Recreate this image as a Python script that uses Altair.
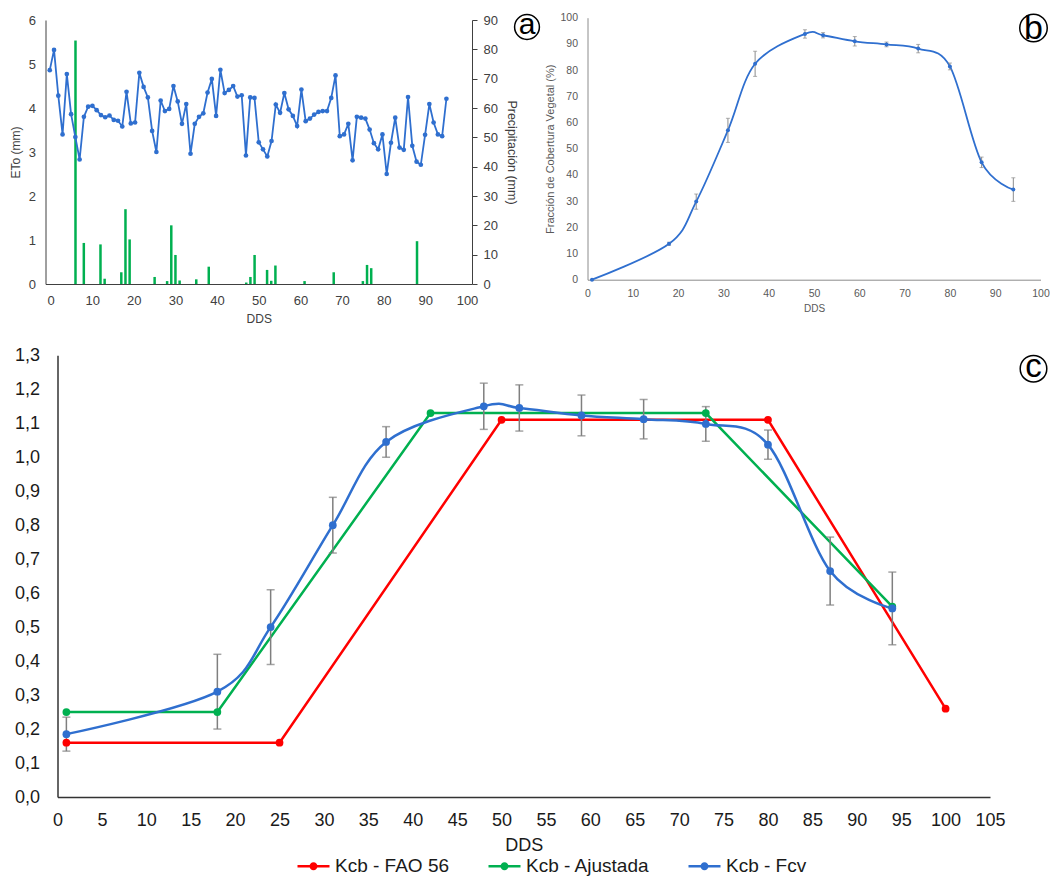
import altair as alt
import pandas as pd

FONT = "Liberation Sans"
W, H = 1042, 870

# ---------------- Panel a : ETo and precipitation ----------------
eto_dds = list(range(1, 95))
eto_mm = [4.86, 5.32, 4.28, 3.40, 4.77, 3.86, 3.34, 2.83, 3.80, 4.03,
          4.05, 3.95, 3.84, 3.79, 3.83, 3.73, 3.71, 3.58, 4.37, 3.65,
          3.67, 4.80, 4.48, 4.24, 3.48, 3.00, 4.17, 3.93, 3.98, 4.50,
          4.15, 3.64, 4.09, 2.96, 3.64, 3.80, 3.88, 4.35, 4.66, 3.82,
          4.87, 4.34, 4.41, 4.50, 4.26, 4.29, 2.92, 4.24, 4.23, 3.22,
          3.06, 2.90, 3.25, 4.08, 3.89, 4.34, 3.97, 3.82, 3.59, 4.42,
          3.70, 3.76, 3.85, 3.91, 3.93, 3.93, 4.23, 4.74, 3.36, 3.40,
          3.64, 2.81, 3.80, 3.78, 3.76, 3.51, 3.20, 3.06, 3.40, 2.50,
          3.21, 3.78, 3.10, 3.05, 4.25, 3.14, 2.78, 2.71, 3.39, 4.09,
          3.67, 3.40, 3.36, 4.21]
precip_dds = [6, 8, 12, 13, 17, 18, 19, 25, 28, 29, 30, 31, 35, 38, 47, 48, 49,
              52, 53, 54, 61, 68, 75, 76, 77, 88]
precip_mm = [83, 14, 13.5, 1.8, 4, 25.5, 15.2, 2.4, 1, 20, 9.9, 1.2, 1.6, 5.9,
             0.5, 2.4, 9.9, 4.8, 1.1, 6.3, 1, 4, 1, 6.5, 5.4, 14.6]

# ---------------- Panel b : vegetation cover fraction ----------------
fcv_dds = [1, 18, 24, 31, 37, 48, 52, 59, 66, 73, 80, 87, 94]
fcv_pct = [0, 13.7, 29.8, 57.0, 82.4, 93.8, 93.3, 91.0, 89.8, 88.2, 81.4, 44.8, 34.4]
fcv_err = [0, 0.6, 2.9, 4.6, 4.8, 1.6, 1.0, 1.8, 0.9, 1.6, 1.3, 2.0, 4.5]

# ---------------- Panel c : Kcb ----------------
series_names = ["Kcb - FAO 56", "Kcb - Ajustada", "Kcb - Fcv"]
series_colors = ["#ff0000", "#00b050", "#2f6fcf"]
fao_dds = [1, 25, 50, 80, 100]
fao_kcb = [0.16, 0.16, 1.11, 1.11, 0.26]
aj_dds = [1, 18, 42, 73, 94]
aj_kcb = [0.25, 0.25, 1.13, 1.13, 0.56]
kfcv_dds = fcv_dds
kfcv_kcb = [0.185, 0.31, 0.50, 0.80, 1.045, 1.15, 1.145, 1.123, 1.112, 1.098, 1.037, 0.665, 0.555]
kfcv_err = [0.05, 0.11, 0.11, 0.082, 0.045, 0.068, 0.068, 0.06, 0.058, 0.051, 0.043, 0.10, 0.107]

BLUE_A = "#2f6fcf"
GREEN_A = "#00b050"
AXC = "#404040"
GB = "#595959"

# panel placement inside the single canvas (pixel ranges of each panel's scales)
A_X, A_Y = [37.5, 464], [276, 12]
B_X, B_Y = [579.5, 1032.5], [271.7, 9.7]
C_X, C_Y = [49.5, 982], [789, 347.3]

df_e = pd.DataFrame({"dds": eto_dds, "eto": eto_mm})
df_p = pd.DataFrame({"dds": precip_dds, "p": precip_mm})
df_one = pd.DataFrame({"k": [0]})


def badge(letter, cx, cy, r, fs, dy):
    circ = alt.Chart(df_one).mark_point(shape="circle", filled=False, stroke="black",
                                        strokeWidth=1.5, size=3.1416 * r * r, opacity=1).encode(
        x=alt.value(cx), y=alt.value(cy))
    txt = alt.Chart(df_one).mark_text(text=letter, font=FONT, fontSize=fs, color="black",
                                      baseline="middle", align="center", dy=dy).encode(
        x=alt.value(cx), y=alt.value(cy))
    return [circ, txt]


def ax(**kw):
    base = dict(grid=False, labelFlush=False, labelOverlap=False, titleFontWeight="normal",
                labelFont=FONT, titleFont=FONT)
    base.update(kw)
    return alt.Axis(**base)


# ---------- panel a ----------
sc_ax = alt.Scale(domain=[0, 100], nice=False, zero=False, range=A_X)
xa_axis = ax(values=list(range(0, 101, 10)), title="DDS", ticks=False, tickSize=0,
             labelFontSize=13, titleFontSize=12, labelPadding=10, titlePadding=6,
             domainColor=AXC, labelColor=AXC, titleColor=AXC, orient="bottom",
             offset=A_Y[0] - H)
bars = alt.Chart(df_p).mark_bar(size=2.5, color=GREEN_A).encode(
    x=alt.X("dds:Q", scale=sc_ax, axis=xa_axis),
    y=alt.Y("p:Q", scale=alt.Scale(domain=[0, 90], nice=False, range=A_Y),
            axis=ax(orient="right", offset=A_X[1] - W, values=list(range(0, 91, 10)),
                    title="Precipitación (mm)", tickSize=5, tickColor=AXC,
                    labelFontSize=13, titleFontSize=12.5, labelPadding=6,
                    titlePadding=7, domainColor=AXC, labelColor=AXC, titleColor=AXC)))
sc_eto = alt.Scale(domain=[0, 6], nice=False, range=A_Y)
eto_line = alt.Chart(df_e).mark_line(color=BLUE_A, strokeWidth=1.8).encode(
    x=alt.X("dds:Q", scale=sc_ax, axis=None),
    y=alt.Y("eto:Q", scale=sc_eto,
            axis=ax(orient="left", offset=-A_X[0], values=list(range(0, 7)), title="ETo (mm)",
                    ticks=False, tickSize=0, labelFontSize=13, titleFontSize=12,
                    labelPadding=10, titlePadding=6, domainColor=AXC,
                    labelColor=AXC, titleColor=AXC)))
eto_pts = alt.Chart(df_e).mark_point(filled=True, size=22, color=BLUE_A, opacity=1).encode(
    x=alt.X("dds:Q", scale=sc_ax, axis=None),
    y=alt.Y("eto:Q", scale=sc_eto, axis=None))

# ---------- panel b ----------
df_b = pd.DataFrame({"dds": fcv_dds, "f": fcv_pct,
                     "lo": [v - e for v, e in zip(fcv_pct, fcv_err)],
                     "hi": [v + e for v, e in zip(fcv_pct, fcv_err)]})
sc_bx = alt.Scale(domain=[0, 100], nice=False, zero=False, range=B_X)
sc_by = alt.Scale(domain=[0, 100], nice=False, range=B_Y)
xb_axis = ax(orient="bottom", offset=B_Y[0] - H, values=list(range(0, 101, 10)), title="DDS",
             ticks=False, tickSize=0, labelFontSize=10.5, titleFontSize=10,
             labelPadding=8.8, titlePadding=4.7, domainColor="#8c8c8c", labelColor=GB,
             titleColor=GB)
yb_axis = ax(orient="left", offset=-B_X[0], values=list(range(0, 101, 10)),
             title="Fracción de Cobertura Vegetal (%)", ticks=False, tickSize=0,
             labelFontSize=10.5, titleFontSize=11, labelPadding=10, titlePadding=4.3,
             domainColor="#8c8c8c", labelColor=GB, titleColor=GB)
xb_n = alt.X("dds:Q", scale=sc_bx, axis=None)
b_line = alt.Chart(df_b).mark_line(color=BLUE_A, strokeWidth=1.8, interpolate="cardinal",
                                   tension=0).encode(
    x=alt.X("dds:Q", scale=sc_bx, axis=xb_axis), y=alt.Y("f:Q", scale=sc_by, axis=yb_axis))
b_err = alt.Chart(df_b).mark_rule(color="#8c8c8c", strokeWidth=1).encode(
    x=xb_n, y=alt.Y("lo:Q", scale=sc_by, axis=None), y2="hi:Q")
b_cap_lo = alt.Chart(df_b).mark_tick(color="#8c8c8c", orient="horizontal", size=4,
                                     thickness=1).encode(
    x=xb_n, y=alt.Y("lo:Q", scale=sc_by, axis=None))
b_cap_hi = alt.Chart(df_b).mark_tick(color="#8c8c8c", orient="horizontal", size=4,
                                     thickness=1).encode(
    x=xb_n, y=alt.Y("hi:Q", scale=sc_by, axis=None))
b_pts = alt.Chart(df_b).mark_point(filled=True, size=16, color=BLUE_A, opacity=1).encode(
    x=xb_n, y=alt.Y("f:Q", scale=sc_by, axis=None))

# ---------- panel c ----------
df_fao = pd.DataFrame({"dds": fao_dds, "kcb": fao_kcb, "serie": series_names[0]})
df_aj = pd.DataFrame({"dds": aj_dds, "kcb": aj_kcb, "serie": series_names[1]})
df_fcv = pd.DataFrame({"dds": kfcv_dds, "kcb": kfcv_kcb,
                       "lo": [v - e for v, e in zip(kfcv_kcb, kfcv_err)],
                       "hi": [v + e for v, e in zip(kfcv_kcb, kfcv_err)],
                       "serie": series_names[2]})
df_pts = pd.concat([df_fao, df_aj, df_fcv[["dds", "kcb", "serie"]]], ignore_index=True)

sc_cx = alt.Scale(domain=[0, 105], nice=False, zero=False, range=C_X)
sc_cy = alt.Scale(domain=[0, 1.3], nice=False, range=C_Y)
xc_axis = ax(orient="bottom", offset=C_Y[0] - H, values=list(range(0, 106, 5)), title="DDS",
             ticks=False, tickSize=0, labelFontSize=18, titleFontSize=18,
             labelPadding=14, titlePadding=7, domainColor="#333333", domainWidth=1.5,
             labelColor="#1a1a1a", titleColor="#1a1a1a")
yc_axis = ax(orient="left", offset=-C_X[0], values=[i / 10 for i in range(0, 14)],
             title=None, ticks=False, tickSize=0,
             labelExpr="replace(format(datum.value, '.1f'), '.', ',')",
             labelFontSize=18, labelPadding=18, domainColor="#333333",
             domainWidth=1.5, labelColor="#1a1a1a")
xc_n = alt.X("dds:Q", scale=sc_cx, axis=None)
yc_n = alt.Y("kcb:Q", scale=sc_cy, axis=None)
cscale = alt.Scale(domain=series_names, range=series_colors)
legend_sym = ("M-2,-0.16H2V0.16H-2Z M0.5,0A0.5,0.5,0,1,1,-0.5,0"
              "A0.5,0.5,0,1,1,0.5,0Z")

c_fao = alt.Chart(df_fao).mark_line(strokeWidth=2.5, color=series_colors[0]).encode(
    x=alt.X("dds:Q", scale=sc_cx, axis=xc_axis), y=alt.Y("kcb:Q", scale=sc_cy, axis=yc_axis))
c_aj = alt.Chart(df_aj).mark_line(strokeWidth=2.5, color=series_colors[1]).encode(x=xc_n, y=yc_n)
c_blue = alt.Chart(df_fcv).mark_line(strokeWidth=2.5, color=series_colors[2],
                                     interpolate="cardinal", tension=0).encode(x=xc_n, y=yc_n)
c_err = alt.Chart(df_fcv).mark_rule(color="#7f7f7f", strokeWidth=1.5).encode(
    x=xc_n, y=alt.Y("lo:Q", scale=sc_cy, axis=None), y2="hi:Q")
c_cap_lo = alt.Chart(df_fcv).mark_tick(color="#7f7f7f", orient="horizontal", size=8,
                                       thickness=1.5).encode(
    x=xc_n, y=alt.Y("lo:Q", scale=sc_cy, axis=None))
c_cap_hi = alt.Chart(df_fcv).mark_tick(color="#7f7f7f", orient="horizontal", size=8,
                                       thickness=1.5).encode(
    x=xc_n, y=alt.Y("hi:Q", scale=sc_cy, axis=None))
c_pts = alt.Chart(df_pts).mark_point(filled=True, size=60, opacity=1).encode(
    x=xc_n, y=yc_n,
    color=alt.Color("serie:N", scale=cscale,
                    legend=alt.Legend(title=None, orient="none", legendX=296, legendY=848.5,
                                      direction="horizontal", symbolType=legend_sym,
                                      symbolSize=256, symbolStrokeWidth=0,
                                      labelFontSize=19, labelFont=FONT,
                                      labelColor="#1a1a1a", labelOffset=12,
                                      columnPadding=38, padding=0)))

layers = [bars, eto_line, eto_pts,
          b_line, b_err, b_cap_lo, b_cap_hi, b_pts,
          c_fao, c_aj, c_blue, c_err, c_cap_lo, c_cap_hi, c_pts]
layers += badge("a", 519, 19, 14, 30, -2)
layers += badge("b", 1025.5, 20, 15.5, 34, 1)
layers += badge("c", 1025.5, 360.7, 15, 33, -2)

chart = alt.layer(*layers).resolve_scale(x="independent", y="independent").properties(
    width=W, height=H, padding=0, autosize=alt.AutoSizeParams(type="none")
).configure_view(stroke=None)

chart.save("out.html", embed_options={"renderer": "svg", "actions": False})
